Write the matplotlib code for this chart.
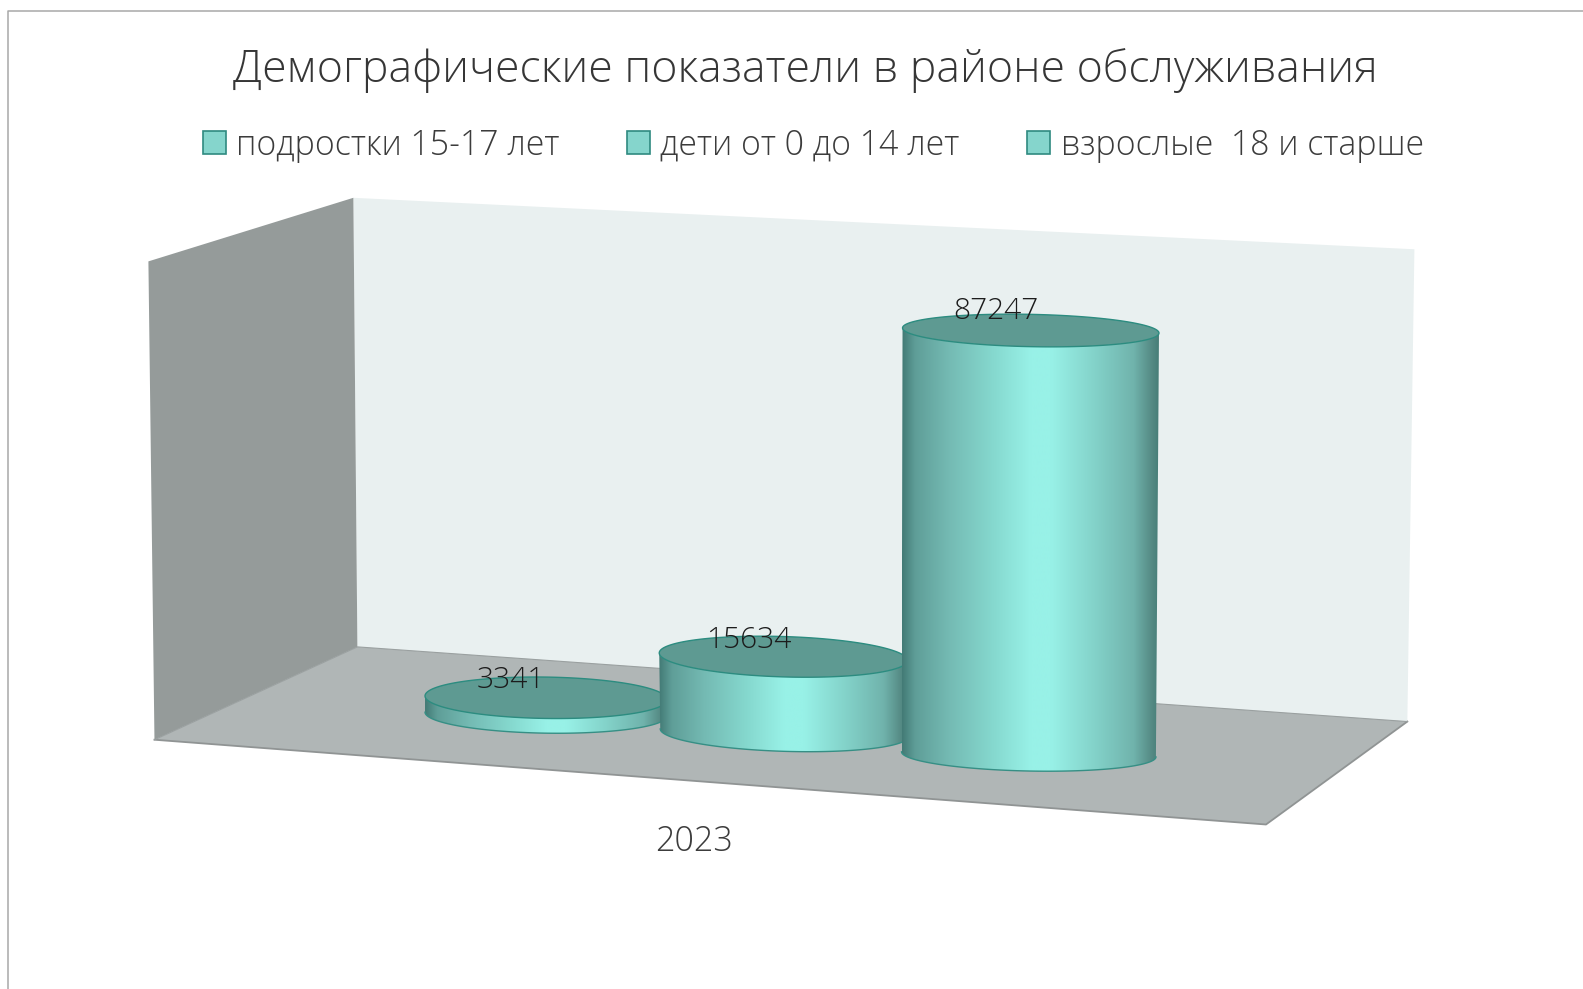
import numpy as np
import matplotlib
matplotlib.use("Agg")
import matplotlib.pyplot as plt
from matplotlib.patches import Polygon, PathPatch, Patch
from matplotlib.path import Path
from matplotlib.colors import LinearSegmentedColormap

title = "Демографические показатели в районе обслуживания"
series = ["подростки 15-17 лет", "дети от 0 до 14 лет", "взрослые  18 и старше"]
values = [3341, 15634, 87247]
category = "2023"

W, H = 1568, 980
UNIT = 420 / 87247   # drawing units per person

# layout: base centre x, base centre y, top centre x, half widths, semi-minors, tilt
base_x = [541, 777, 1019]
base_y = [707.5, 726, 747.5]
top_dx = [0, -1, 2]
half_top = [120, 123, 127]
half_base = [120, 123, 126]
semi_top = [20.5, 20, 16]
semi_base = [19, 18.5, 16.5]
tilt = [0.015, 0.03, 0.02]

TXT = "#3c3c3c"
plt.rcParams["font.family"] = ["Open Sans", "Noto Sans", "DejaVu Sans"]
plt.rcParams["font.weight"] = 300

fig = plt.figure(figsize=(15.83, 9.89), dpi=100, facecolor="white")
ax = fig.add_axes([0, 0, 1, 1])
ax.set_xlim(0, W)
ax.set_ylim(H, 0)
ax.axis("off")

# chart frame
ax.plot([8, 8, W], [H, 11, 11], color="#a8a8a8", lw=1.1, zorder=1, clip_on=False)

# walls and floor
ax.add_patch(Polygon([(350, 196), (1401, 247), (1394, 715), (354, 641)], fc="#e9f0f0", ec="none", zorder=2))
ax.add_patch(Polygon([(147, 259), (350, 196), (354, 641), (153, 733)], fc="#959b9a", ec="none", zorder=2))
ax.add_patch(Polygon([(153, 733), (354, 641), (1394, 715), (1254, 817)], fc="#b0b6b6", ec="none", zorder=2))
ax.plot([153, 1254, 1394], [733, 817, 715], color="#909494", lw=1.3, zorder=3)
ax.plot([153, 354, 1394], [733, 641, 715], color="#9aa0a0", lw=0.8, zorder=3)

cmap = LinearSegmentedColormap.from_list("cyl", [
    (0.00, "#437b76"), (0.05, "#5f9e98"), (0.18, "#74bab3"), (0.35, "#85d8ce"),
    (0.50, "#98f1e7"), (0.58, "#98f1e7"), (0.75, "#83d2c9"), (0.90, "#70b3ac"),
    (0.97, "#558a84"), (1.00, "#457c76")])
grad = np.linspace(0, 1, 512)[None, :]

t_low = np.linspace(np.pi, 0, 120)   # lower half, left to right
t_all = np.linspace(0, 2 * np.pi, 240)

def ell(cx, cy, a, b, s, t):
    return np.column_stack([cx + a * np.cos(t), cy + b * np.sin(t) + a * s * np.cos(t)])

for i, v in enumerate(values):
    z = 10 + i * 3
    h = v * UNIT
    bx, by = base_x[i], base_y[i]
    tx, ty = bx + top_dx[i], by - h
    low_top = ell(tx, ty, half_top[i], semi_top[i], tilt[i], t_low)
    low_base = ell(bx, by, half_base[i], semi_base[i], tilt[i], t_low)
    outline = np.vstack([low_top, low_base[::-1], low_top[:1]])
    clip = PathPatch(Path(outline), transform=ax.transData, fc="none", ec="none")
    ax.add_patch(clip)
    left = min(tx - half_top[i], bx - half_base[i])
    right = max(tx + half_top[i], bx + half_base[i])
    im = ax.imshow(grad, cmap=cmap, extent=[left, right, by + 40, ty - 40],
                   aspect="auto", zorder=z, interpolation="bilinear")
    im.set_clip_path(clip)
    ax.plot(low_base[:, 0], low_base[:, 1], color="#368f85", lw=1.0, zorder=z + 1)
    ax.add_patch(Polygon(ell(tx, ty, half_top[i], semi_top[i], tilt[i], t_all),
                         fc="#5e9a92", ec="#2c8c80", lw=1.0, zorder=z + 1))
    ax.set_xlim(0, W)
    ax.set_ylim(H, 0)

# value labels
label_x = [506, 742, 986]
label_dy = [-17, -16, -19]
for i, v in enumerate(values):
    ax.text(label_x[i], base_y[i] - v * UNIT + label_dy[i], str(v), ha="center", va="center",
            fontsize=21.5, color="#1c1c1c", zorder=30)

ax.text(798, 69.5, title, ha="center", va="center", fontsize=32.1, color="#363636", zorder=30)
ax.text(687, 834, category, ha="center", va="center", fontsize=24.5, color=TXT, zorder=30)

handles = [Patch(fc="#85d5cc", ec="#2f8a80", lw=1.2) for _ in series]
leg = ax.legend(handles, series, ncol=3, loc="center", bbox_to_anchor=(805.5 / W, 1 - 144 / H),
                frameon=False, fontsize=24.4, labelcolor=TXT,
                handlelength=0.68, handleheight=0.66, handletextpad=0.3, columnspacing=2.0)

fig.savefig("out.png", dpi=100, facecolor="white")
